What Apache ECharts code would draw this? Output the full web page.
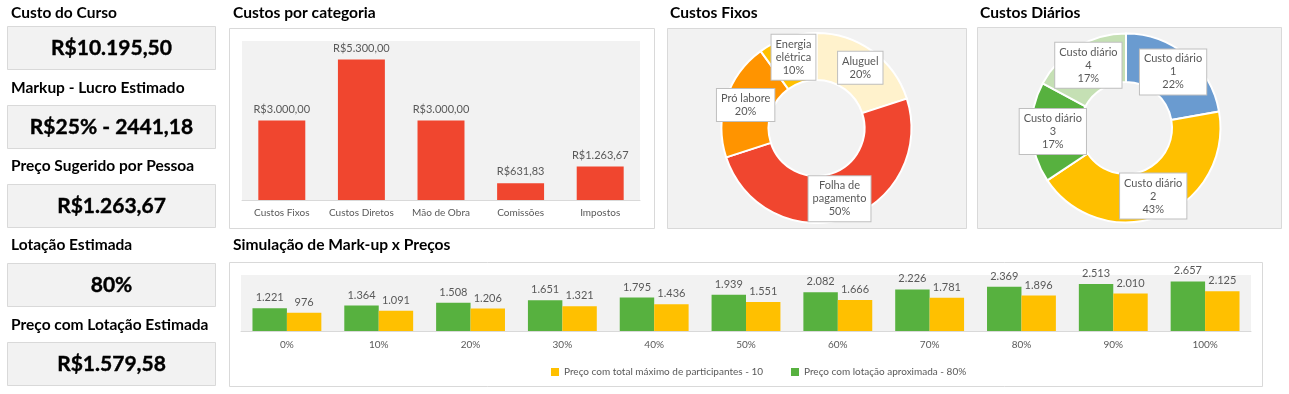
<!DOCTYPE html>
<html>
<head>
<meta charset="utf-8">
<script src="https://cdn.jsdelivr.net/npm/echarts@6/dist/echarts.min.js"></script>
<style>
html,body{margin:0;padding:0;background:#fff;}
#c{width:1289px;height:394px;}
</style>
</head>
<body>
<div id="c"></div>
<script>
// ---- data ----
const kpiTitles = ['Custo do Curso','Markup - Lucro Estimado','Preço Sugerido por Pessoa','Lotação Estimada','Preço com Lotação Estimada'];
const kpiValues = ['R$10.195,50','R$25% - 2441,18','R$1.263,67','80%','R$1.579,58'];

const catNames = ['Custos Fixos','Custos Diretos','Mão de Obra','Comissões','Impostos'];
const catValues = [3000, 5300, 3000, 631.83, 1263.67];

const fixNames = ['Aluguel','Folha de pagamento','Pró labore','Energia elétrica'];
const fixLabels = ['Aluguel','Folha de\npagamento','Pró labore','Energia\nelétrica'];
const fixValues = [20, 50, 20, 10];

const dayNames = ['Custo diário 1','Custo diário 2','Custo diário 3','Custo diário 4',''];
const dayLabels = ['Custo diário\n1','Custo diário\n2','Custo diário\n3','Custo diário\n4',''];
const dayValues = [22, 43, 17, 17, 0];

const markupCats = ['0%','10%','20%','30%','40%','50%','60%','70%','80%','90%','100%'];
const priceLotacao = [1221,1364,1508,1651,1795,1939,2082,2226,2369,2513,2657];
const priceMax = [976,1091,1206,1321,1436,1551,1666,1781,1896,2010,2125];
const seriesNames = ['Preço com lotação aproximada - 80%','Preço com total máximo de participantes - 10'];

// ---- helpers ----
const FONT = 'Lato, "Open Sans", sans-serif';
const GRAY = '#595959';
function grp(s){ return s.replace(/\B(?=(\d{3})+(?!\d))/g,'.'); }
function brl(v){ const p = v.toFixed(2).split('.'); return 'R$' + grp(p[0]) + ',' + p[1]; }
function thou(v){ return grp(String(Math.round(v))); }

const chart = echarts.init(document.getElementById('c'));

// KPI graphics
const kpiTop = [26, 105, 184, 263, 342];
const kpiTitleY = [13, 88, 166, 245, 325];
const graphics = [];
// panels
graphics.push({type:'rect', z:-10, shape:{x:229.5,y:28.5,width:425,height:200}, style:{fill:'#fff',stroke:'#d9d9d9',lineWidth:1}});
graphics.push({type:'rect', z:-10, shape:{x:667.5,y:28.5,width:299,height:200}, style:{fill:'#f2f2f2',stroke:'#d9d9d9',lineWidth:1}});
graphics.push({type:'rect', z:-10, shape:{x:977.5,y:27.5,width:304,height:201}, style:{fill:'#f2f2f2',stroke:'#d9d9d9',lineWidth:1}});
graphics.push({type:'rect', z:-10, shape:{x:229.5,y:262.5,width:1033,height:124}, style:{fill:'#fff',stroke:'#d9d9d9',lineWidth:1}});
kpiTitles.forEach((t,i)=>{
  const top = kpiTop[i];
  graphics.push({type:'text', x:11, y:kpiTitleY[i], style:{text:t, font:'bold 15.5px '+FONT, fill:'#000', verticalAlign:'middle'}});
  graphics.push({type:'rect', shape:{x:7.5,y:top+0.5,width:208,height:43}, style:{fill:'#f2f2f2',stroke:'#d9d9d9',lineWidth:1}});
  graphics.push({type:'text', x:111.5, y:top+22, style:{text:kpiValues[i], font:'bold 21px '+FONT, fill:'#000', align:'center', verticalAlign:'middle', stroke:'#000', lineWidth:0.4}});
});

const titleStyle = {fontFamily:FONT, fontWeight:'bold', fontSize:15.6, color:'#000'};
const pieLabel = {
  show:true, position:'inside', color:GRAY, fontFamily:FONT, fontSize:11, lineHeight:13,
  backgroundColor:'#fff', borderColor:'#bfbfbf', borderWidth:1, padding:[3,4], align:'center'
};

const option = {
  animation:false,
  textStyle:{fontFamily:FONT},
  title:[
    {text:'Custos por categoria', left:233, top:5, textStyle:titleStyle, padding:0},
    {text:'Custos Fixos', left:670, top:5, textStyle:titleStyle, padding:0},
    {text:'Custos Diários', left:980, top:5, textStyle:titleStyle, padding:0},
    {text:'Simulação de Mark-up x Preços', left:233, top:237, textStyle:titleStyle, padding:0}
  ],
  graphic: graphics,
  legend:{
    data:[seriesNames[1], seriesNames[0]],
    left:546, top:362, itemWidth:8, itemHeight:8, itemGap:28, icon:'rect',
    textStyle:{color:GRAY, fontSize:10, fontFamily:FONT}
  },
  grid:[
    {left:242, top:41, width:398, height:159, show:true, backgroundColor:'#f2f2f2', borderWidth:0},
    {left:241, top:275, width:1010, height:56, show:true, backgroundColor:'#f2f2f2', borderWidth:0}
  ],
  xAxis:[
    {type:'category', gridIndex:0, data:catNames, axisTick:{show:false},
     axisLine:{lineStyle:{color:'#d9d9d9'}}, axisLabel:{interval:0, color:GRAY, fontSize:10, margin:8, fontFamily:FONT}},
    {type:'category', gridIndex:1, data:markupCats, axisTick:{show:false},
     axisLine:{lineStyle:{color:'#d9d9d9'}}, axisLabel:{interval:0, color:GRAY, fontSize:10, margin:9, fontFamily:FONT}}
  ],
  yAxis:[
    {type:'value', gridIndex:0, min:0, max:6000, show:false, splitLine:{show:false}},
    {type:'value', gridIndex:1, min:0, max:3000, show:false, splitLine:{show:false}}
  ],
  series:[
    {type:'bar', xAxisIndex:0, yAxisIndex:0, data:catValues, barCategoryGap:'41%',
     itemStyle:{color:'#f0462f'},
     label:{show:true, position:'top', distance:6, color:GRAY, fontSize:11, fontFamily:FONT,
            formatter:p=>brl(p.value)}},
    {type:'pie', center:[816.5,128], radius:[48,95], startAngle:90, clockwise:true,
     itemStyle:{borderColor:'#fff', borderWidth:2},
     label:Object.assign({}, pieLabel, {formatter:p=>fixLabels[p.dataIndex]+'\n'+Math.round(p.percent)+'%'}),
     labelLine:{show:false},
     data: fixNames.map((n,i)=>({name:n, value:fixValues[i],
        itemStyle:{color:['#fff2cc','#f0462f','#ff9400','#ffc000'][i]}}))},
    {type:'pie', center:[1126,128], radius:[46,94.5], startAngle:90, clockwise:true,
     itemStyle:{borderColor:'#fff', borderWidth:2},
     label:Object.assign({}, pieLabel, {formatter:p=>(dayLabels[p.dataIndex]? dayLabels[p.dataIndex]+'\n':'')+Math.round(p.percent)+'%'}),
     labelLine:{show:false},
     data: dayNames.map((n,i)=>{
        const d = {name:n, value:dayValues[i],
          itemStyle:{color:['#6a9bd0','#ffc000','#57b13f','#c5e0b4','#a5a5a5'][i]}};
        if(i===4) d.label = {padding:[9,4]};
        return d;
     })},
    {type:'bar', name:seriesNames[0], xAxisIndex:1, yAxisIndex:1, data:priceLotacao,
     barGap:'0%', barCategoryGap:'25%', itemStyle:{color:'#57b13f'},
     label:{show:true, position:'top', distance:5, color:GRAY, fontSize:11, fontFamily:FONT, formatter:p=>thou(p.value)}},
    {type:'bar', name:seriesNames[1], xAxisIndex:1, yAxisIndex:1, data:priceMax,
     barGap:'0%', barCategoryGap:'25%', itemStyle:{color:'#ffc000'},
     label:{show:true, position:'top', distance:5, color:GRAY, fontSize:11, fontFamily:FONT, formatter:p=>thou(p.value)}}
  ]
};
chart.setOption(option);
</script>
</body>
</html>
